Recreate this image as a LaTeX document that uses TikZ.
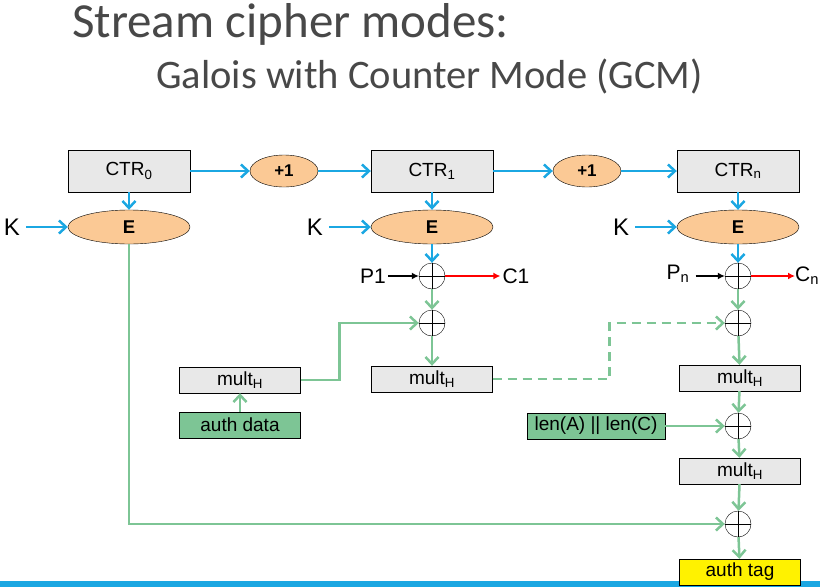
\documentclass[tikz,border=0pt]{standalone}
\usepackage{fontspec}
\setmainfont{Liberation Sans}
\newfontfamily\titlefont{Carlito}
\usetikzlibrary{arrows.meta,shapes.geometric}

\definecolor{arrowblue}{RGB}{27,167,226}
\definecolor{encorange}{RGB}{251,201,149}
\definecolor{boxgray}{RGB}{232,232,232}
\definecolor{authgreen}{RGB}{125,197,149}
\definecolor{titlegray}{RGB}{72,72,72}

\tikzset{
  ctrbox/.style={draw, fill=boxgray, minimum width=122pt, minimum height=42pt, font=\fontsize{19}{20}\selectfont},
  multbox/.style={draw, fill=boxgray, minimum width=121pt, minimum height=26pt, font=\fontsize{19}{20}\selectfont},
  encnode/.style={ellipse, draw, fill=encorange, minimum width=122pt, minimum height=34pt, font=\fontsize{18.5}{20}\selectfont\bfseries},
  incnode/.style={ellipse, draw, fill=encorange, minimum width=68pt, minimum height=32pt, inner sep=0pt, font=\fontsize{17}{18}\selectfont\bfseries},
  xornode/.style={circle, draw, minimum size=26pt, inner sep=0pt,
    path picture={\draw (path picture bounding box.north) -- (path picture bounding box.south)
      (path picture bounding box.west) -- (path picture bounding box.east);}},
  lbl/.style={font=\fontsize{21}{23}\selectfont, inner sep=2pt},
  keylbl/.style={font=\fontsize{24}{26}\selectfont, inner sep=2pt},
  bluearrow/.style={-{Straight Barb[length=7pt,width=13pt]}, line width=2.5pt, color=arrowblue},
  greenarrow/.style={-{Straight Barb[length=7pt,width=13pt]}, line width=2.5pt, color=authgreen},
}

\begin{document}
\begin{tikzpicture}[x=1pt, y=-1pt]
        \useasboundingbox (0,0) rectangle (820,587);

        % title
        \node[anchor=base west, inner sep=0pt, text=titlegray, font=\fontsize{49}{54}\titlefont] (title) at (72,37) {Stream cipher modes:};
        \node[anchor=base west, inner sep=0pt, text=titlegray, font=\fontsize{40.5}{45}\titlefont] (subtitle) at (156,88) {Galois with Counter Mode (GCM)};

        % bar
        \fill[arrowblue] (0,581) rectangle (820,587);

        % counters
        \node[ctrbox] (ctr0) at (129,171) {CTR\textsubscript{0}};
        \node[incnode] (inc1) at (284,171) {+1};
        \node[ctrbox] (ctr1) at (432,171) {CTR\textsubscript{1}};
        \node[incnode] (inc2) at (587,171) {+1};
        \node[ctrbox] (ctrn) at (738,171) {CTR\textsubscript{n}};

        % encryption
        \node[encnode] (enc0) at (129,227) {E};
        \node[encnode] (enc1) at (432,227) {E};
        \node[encnode] (encn) at (738,227) {E};
        \node[keylbl] (k0) at (12,227) {K};
        \node[keylbl] (k1) at (315,227) {K};
        \node[keylbl] (kn) at (621,227) {K};

        % xors
        \node[xornode] (xor1) at (432,276) {};
        \node[xornode] (xor1b) at (432,323) {};
        \node[xornode] (xorn) at (738,276) {};
        \node[xornode] (xorn2) at (738,323) {};
        \node[xornode] (xorn3) at (738,426) {};
        \node[xornode] (xorn4) at (738,524) {};

        % plaintext / ciphertext
        \node[lbl] (p1) at (373,276) {P1};
        \node[lbl] (c1) at (516,276) {C1};
        \node[lbl] (pn) at (678,274) {P\textsubscript{n}};
        \node[lbl, anchor=west, inner sep=0pt] (cn) at (795,276) {C\textsubscript{n}};

        % authentication
        \node[multbox] (multa) at (240,380) {mult\textsubscript{H}};
        \node[multbox, fill=authgreen] (authdata) at (240,425) {auth data};
        \node[multbox] (mult1) at (432,379) {mult\textsubscript{H}};
        \node[multbox] (multn) at (740,378) {mult\textsubscript{H}};
        \node[multbox, fill=authgreen, minimum width=138pt] (lens) at (596,426) {len(A) || len(C)};
        \node[multbox] (multn2) at (740,471) {mult\textsubscript{H}};
        \node[multbox, fill=yellow] (tag) at (740,572) {auth tag};

        % counter arrows
        \draw[bluearrow] (ctr0) -- (inc1);
        \draw[bluearrow] (inc1) -- (ctr1);
        \draw[bluearrow] (ctr1) -- (inc2);
        \draw[bluearrow] (inc2) -- (ctrn);
        \draw[bluearrow] (ctr0) -- (enc0);
        \draw[bluearrow] (ctr1) -- (enc1);
        \draw[bluearrow] (ctrn) -- (encn);
        \draw[bluearrow, shorten <=4pt] (k0) -- (enc0);
        \draw[bluearrow, shorten <=4pt] (k1) -- (enc1);
        \draw[bluearrow, shorten <=4pt] (kn) -- (encn);
        \draw[bluearrow] (enc1) -- (xor1);
        \draw[bluearrow] (encn) -- (xorn);

        % data in and out
        \draw[-{Latex[length=7pt,width=7pt]}, line width=1.5pt] (p1) -- (xor1);
        \draw[-{Latex[length=7pt,width=7pt]}, line width=1.5pt, shorten <=4pt] (pn.east |- xorn) -- (xorn);
        \draw[-{Latex[length=7pt,width=7pt]}, line width=1.5pt, color=red] (xor1) -- (c1);
        \draw[-{Latex[length=7pt,width=7pt]}, line width=1.5pt, color=red] (xorn) -- (cn);

        % tag chain
        \draw[greenarrow] (xor1) -- (xor1b);
        \draw[greenarrow] (authdata) -- (multa);
        \draw[greenarrow] (multa.east) -- ++(39,0) |- (xor1b.west);
        \draw[greenarrow] (xor1b) -- (mult1);
        \draw[greenarrow, dashed, dash pattern=on 9pt off 6pt] (mult1.east) -- ++(117,0) |- (xorn2.west);
        \draw[greenarrow] (xorn) -- (xorn2);
        \draw[greenarrow] (xorn2) -- (multn);
        \draw[greenarrow] (multn) -- (xorn3);
        \draw[greenarrow] (lens) -- (xorn3);
        \draw[greenarrow] (xorn3) -- (multn2);
        \draw[greenarrow] (multn2) -- (xorn4);
        \draw[greenarrow] (enc0.south) |- (xorn4.west);
        \draw[greenarrow] (xorn4) -- (tag);
    \end{tikzpicture}
\end{document}
